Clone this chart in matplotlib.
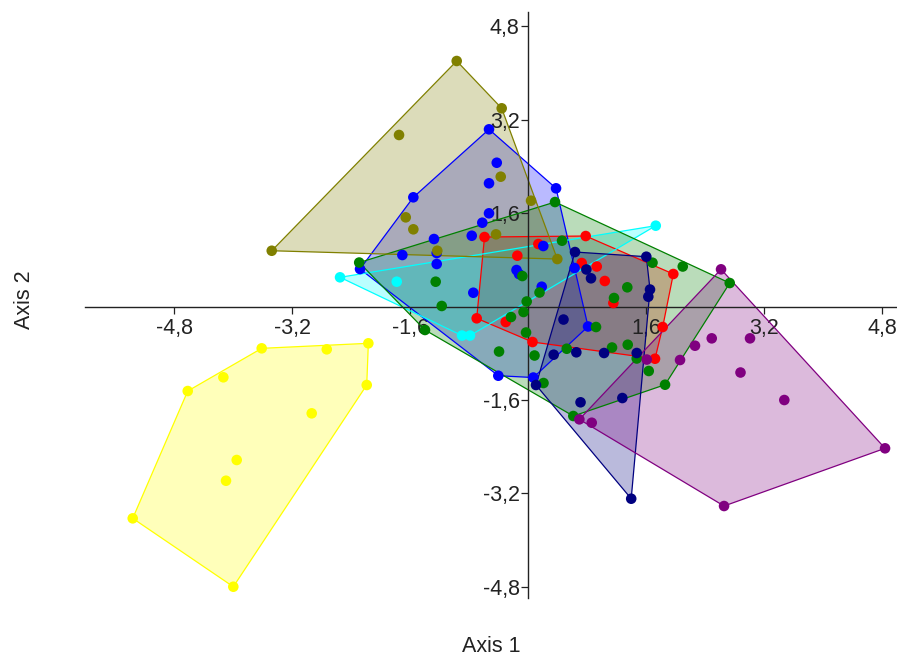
import matplotlib
matplotlib.use("Agg")
import matplotlib.pyplot as plt
from matplotlib.patches import Polygon
import numpy as np

plt.rcParams['font.family'] = ['Liberation Sans', 'DejaVu Sans']

# ---- data (Axis 1 / Axis 2 scores per group) ----
yellow_x = [-3.611, -2.729, -2.165, -2.187, -4.131, -4.614, -2.933, -3.950, -4.095, -5.360, -3.996]
yellow_y = [-0.716, -0.733, -0.630, -1.344, -1.212, -1.447, -1.829, -2.628, -2.983, -3.627, -4.798]

olive_x = [-0.967, -0.357, -1.749, -0.370, 0.041, -1.658, -1.555, -0.434, -3.475, -1.230, 0.397]
olive_y = [4.204, 3.394, 2.937, 2.223, 1.812, 1.527, 1.322, 1.236, 0.955, 0.955, 0.813]

blue_x = [-0.529, -0.424, -0.529, 0.380, -1.555, -0.529, -0.620, -0.763, -1.275, -1.704, -1.238,
          -1.238, -2.278, 0.207, -0.156, -0.122, -0.742, 0.186, 0.631, 0.814, -0.403, 0.072]
blue_y = [3.034, 2.462, 2.110, 2.024, 1.870, 1.596, 1.435, 1.212, 1.156, 0.882, 0.916,
          0.728, 0.642, 1.036, 0.625, 0.556, 0.236, 0.339, 0.659, -0.342, -1.185, -1.216]

cyan_x = [-2.549, -1.780, -0.895, -0.786, 1.732]
cyan_y = [0.500, 0.425, -0.497, -0.497, 1.384]

red_x = [-0.590, 0.140, -0.145, -0.696, -0.302, 0.061, 0.782, 0.728, 0.932, 1.041, 1.157, 1.970, 1.826, 1.722]
red_y = [1.190, 1.070, 0.870, -0.202, -0.265, -0.608, 1.207, 0.745, 0.685, 0.437, 0.060, 0.557, -0.351, -0.894]

green_x = [0.366, 0.461, -2.289, -1.252, -1.170, -1.397, -0.231, -0.077, 0.156, -0.018, -0.061, -0.027,
           0.088, -0.393, 0.525, 0.210, 1.688, 2.098, 2.735, 1.346, 1.166, 0.922, 1.139, 1.352,
           1.474, 1.637, 1.858, 0.614]
green_y = [1.789, 1.127, 0.753, 0.425, 0.009, -0.402, -0.180, 0.522, 0.240, 0.086, -0.094, -0.445,
           -0.839, -0.771, -0.723, -1.310, 0.750, 0.685, 0.402, 0.329, 0.146, -0.351, -0.702, -0.654,
           -0.890, -1.104, -1.339, -1.875]

navy_x = [0.637, 1.604, 0.791, 0.854, 1.654, 1.631, 0.481, 0.348, 0.655, 1.031, 1.474, 0.108, 0.712, 1.279, 1.399]
navy_y = [0.933, 0.853, 0.634, 0.483, 0.291, 0.168, -0.223, -0.825, -0.784, -0.796, -0.796, -1.344, -1.640, -1.567, -3.291]

purple_x = [2.617, 2.491, 3.010, 2.264, 2.061, 1.610, 2.881, 3.475, 4.841, 2.658, 0.864, 0.696]
purple_y = [0.637, -0.545, -0.545, -0.671, -0.916, -0.908, -1.130, -1.601, -2.428, -3.416, -1.990, -1.932]

tick_values = [-4.8, -3.2, -1.6, 1.6, 3.2, 4.8]

groups = [
    (yellow_x, yellow_y, '#ffff00'),
    (red_x, red_y, '#ff0000'),
    (blue_x, blue_y, '#0000ff'),
    (cyan_x, cyan_y, '#00ffff'),
    (green_x, green_y, '#008000'),
    (navy_x, navy_y, '#000080'),
    (purple_x, purple_y, '#800080'),
    (olive_x, olive_y, '#808000'),
]


def convex_hull(xs, ys):
    pts = sorted(set(zip(xs, ys)))
    if len(pts) <= 2:
        return pts

    def cross(o, a, b):
        return (a[0] - o[0]) * (b[1] - o[1]) - (a[1] - o[1]) * (b[0] - o[0])

    lower = []
    for p in pts:
        while len(lower) >= 2 and cross(lower[-2], lower[-1], p) <= 0:
            lower.pop()
        lower.append(p)
    upper = []
    for p in reversed(pts):
        while len(upper) >= 2 and cross(upper[-2], upper[-1], p) <= 0:
            upper.pop()
        upper.append(p)
    return lower[:-1] + upper[:-1]


fig = plt.figure(figsize=(8.97, 6.57), dpi=100)
ax = fig.add_axes([85 / 897, 1 - 598 / 657, 1 - 85 / 897, (598 - 12) / 657])
ax.set_xlim(-6.007, 5.003)
ax.set_ylim(-4.991, 5.043)

for i, (xs, ys, c) in enumerate(groups):
    hull = convex_hull(xs, ys)
    poly = Polygon(hull, closed=True, facecolor=c, alpha=0.27, edgecolor='none', zorder=1 + i * 0.01)
    ax.add_patch(poly)
    edge = Polygon(hull, closed=True, facecolor='none', edgecolor=c, linewidth=0.9, zorder=1.5 + i * 0.01)
    ax.add_patch(edge)

for i, (xs, ys, c) in enumerate(groups):
    ax.scatter(xs, ys, s=58, color=c, edgecolors='none', zorder=3 + i * 0.01)

for side in ['top', 'right']:
    ax.spines[side].set_visible(False)
ax.spines['left'].set_position('zero')
ax.spines['bottom'].set_position('zero')
for side in ['left', 'bottom']:
    ax.spines[side].set_linewidth(1.0)
    ax.spines[side].set_color('#222222')
    ax.spines[side].set_zorder(2)

ax.set_xticks(tick_values)
ax.set_yticks(tick_values)
fmt = lambda v: f"{v:.1f}".replace('.', ',')
ax.set_xticklabels([fmt(v) for v in tick_values])
ax.set_yticklabels([fmt(v) for v in tick_values])
ax.tick_params(axis='both', direction='out', length=5, width=0.9, color='#222222',
               labelsize=15.5, labelcolor='#222222')
ax.tick_params(axis='x', pad=3)
ax.tick_params(axis='y', pad=1)
ax.patch.set_visible(False)

fig.text(491 / 897, 1 - 647 / 657, 'Axis 1', ha='center', va='center', fontsize=15.5, color='#222222')
fig.text(25 / 897, 1 - 300 / 657, 'Axis 2', ha='center', va='center', rotation=90, fontsize=15.5, color='#222222')

fig.savefig('out.png', dpi=100)
